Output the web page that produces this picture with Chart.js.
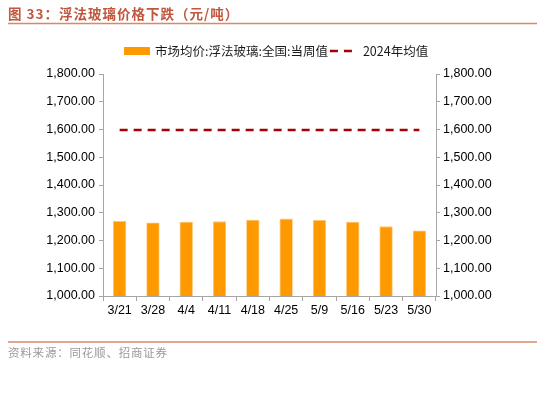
<!DOCTYPE html>
<html>
<head>
<meta charset="utf-8">
<script src="https://cdn.jsdelivr.net/npm/chart.js@4/dist/chart.umd.min.js"></script>
<style>
html,body{margin:0;padding:0;background:#fff;}
#wrap{position:relative;width:550px;height:396px;}
</style>
</head>
<body>
<div id="wrap"><canvas id="c" width="550" height="396"></canvas></div>
<script>
const categories = ['3/21','3/28','4/4','4/11','4/18','4/25','5/9','5/16','5/23','5/30'];
const weeklyPrice = [1270, 1265, 1268, 1269, 1275, 1279, 1274, 1268, 1251, 1236];
const avg2024 = [1598, 1598, 1598, 1598, 1598, 1598, 1598, 1598, 1598, 1598];
const seriesNames = ['市场均价:浮法玻璃:全国:当周值', '2024年均值'];
const titleText = '图 33：浮法玻璃价格下跌（元/吨）';
const sourceText = '资料来源：同花顺、招商证券';
const yMin = 1000, yMax = 1800, yStep = 100;

const CJK = '"Noto Sans CJK SC", "Noto Sans", sans-serif';
const LAT = '"Liberation Sans", Arial, sans-serif';
const BAR_COLOR = '#FF9900';
const LINE_COLOR = '#A80000';

const decor = {
  id: 'decor',
  afterDraw(chart) {
    const ctx = chart.ctx;
    ctx.save();
    // title
    ctx.fillStyle = '#C0573E';
    ctx.font = 'bold 13.5px ' + CJK;
    ctx.textBaseline = 'middle';
    ctx.textAlign = 'left';
    ctx.letterSpacing = '1px';
    ctx.fillText(titleText, 8, 14);
    ctx.letterSpacing = '0px';
    // top rule
    ctx.strokeStyle = '#D9896A';
    ctx.lineWidth = 1.5;
    ctx.beginPath(); ctx.moveTo(8, 23.5); ctx.lineTo(537, 23.5); ctx.stroke();
    // bottom rule
    ctx.beginPath(); ctx.moveTo(8, 342); ctx.lineTo(537, 342); ctx.stroke();
    // source
    ctx.fillStyle = '#999999';
    ctx.font = '11.5px ' + CJK;
    ctx.letterSpacing = '0.8px';
    ctx.fillText(sourceText, 8, 353);
    ctx.letterSpacing = '0px';
    // legend
    const ly = 51;
    ctx.fillStyle = BAR_COLOR;
    ctx.fillRect(124, ly - 4, 26, 8);
    ctx.fillStyle = '#1a1a1a';
    ctx.font = '12.5px ' + CJK;
    ctx.fillText(seriesNames[0], 155, ly);
    const w0 = ctx.measureText(seriesNames[0]).width;
    const lx = 155 + w0 + 2;
    ctx.strokeStyle = LINE_COLOR;
    ctx.lineWidth = 2.5;
    ctx.setLineDash([8, 6]);
    ctx.beginPath(); ctx.moveTo(lx, ly); ctx.lineTo(lx + 26, ly); ctx.stroke();
    ctx.setLineDash([]);
    ctx.fillStyle = '#1a1a1a';
    ctx.fillText(seriesNames[1], lx + 33, ly);
    ctx.restore();
  }
};

const fmt = v => Number(v).toLocaleString('en-US', {minimumFractionDigits: 2, maximumFractionDigits: 2});

new Chart(document.getElementById('c'), {
  data: {
    labels: categories,
    datasets: [
      {
        type: 'bar',
        label: seriesNames[0],
        data: weeklyPrice,
        backgroundColor: BAR_COLOR,
        borderColor: '#FFC470',
        borderWidth: 0.8,
        barPercentage: 0.4,
        categoryPercentage: 1.0,
        yAxisID: 'y',
        order: 2
      },
      {
        type: 'line',
        label: seriesNames[1],
        data: avg2024,
        borderColor: LINE_COLOR,
        borderWidth: 2.5,
        borderDash: [8, 6],
        pointRadius: 0,
        fill: false,
        yAxisID: 'y',
        order: 1
      }
    ]
  },
  options: {
    responsive: false,
    animation: false,
    devicePixelRatio: 1,
    layout: { padding: { top: 74, bottom: 0, left: 0, right: 0 } },
    plugins: { legend: { display: false }, tooltip: { enabled: false } },
    scales: {
      x: {
        offset: true,
        grid: { offset: true, drawOnChartArea: false, drawTicks: true, tickLength: 5, color: '#A6A6A6' },
        border: { color: '#A6A6A6', width: 1 },
        ticks: { color: '#000', font: { family: LAT, size: 12.5 }, padding: 2, maxRotation: 0, autoSkip: false },
        afterFit(s) { s.height = 100; }
      },
      y: {
        position: 'left',
        min: yMin, max: yMax,
        grid: { drawOnChartArea: false, drawTicks: true, tickLength: 4, color: '#A6A6A6' },
        border: { color: '#A6A6A6', width: 1 },
        ticks: { stepSize: yStep, color: '#000', font: { family: LAT, size: 12.5 }, padding: 4, callback: fmt },
        afterFit(s) { s.width = 103; }
      },
      y2: {
        position: 'right',
        min: yMin, max: yMax,
        grid: { drawOnChartArea: false, drawTicks: true, tickLength: 4, color: '#A6A6A6' },
        border: { color: '#A6A6A6', width: 1 },
        ticks: { stepSize: yStep, color: '#000', font: { family: LAT, size: 12.5 }, padding: 3, callback: fmt },
        afterFit(s) { s.width = 114; }
      }
    }
  },
  plugins: [decor]
});
</script>
</body>
</html>
